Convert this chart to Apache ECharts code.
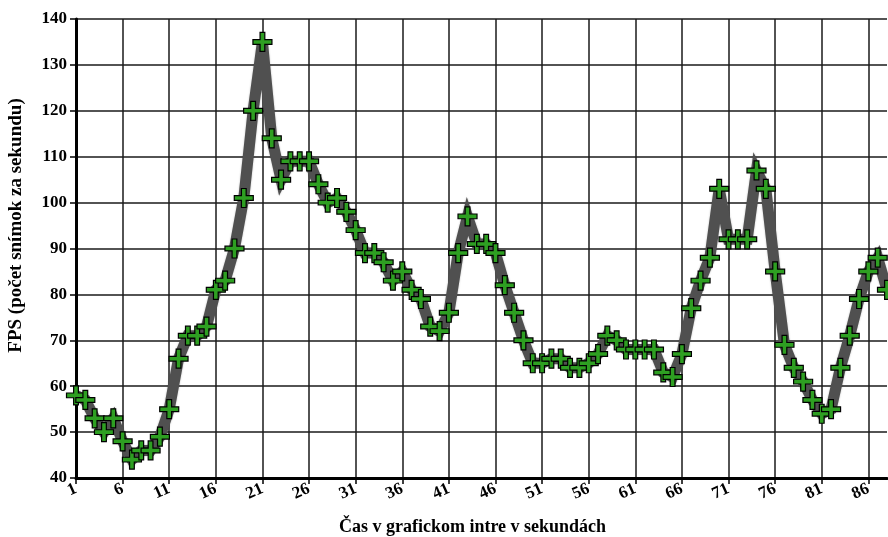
<!DOCTYPE html>
<html>
<head>
<meta charset="utf-8">
<script src="https://cdn.jsdelivr.net/npm/echarts@6/dist/echarts.min.js"></script>
<style>html,body{margin:0;padding:0;background:#fff}#c{width:888px;height:537px}</style>
</head>
<body>
<div id="c"></div>
<script>
const categories = [];
for (let i = 1; i <= 88; i++) categories.push(String(i));
const fpsValues = [58,57,53,50,53,48,44,46,46,49,55,66,71,71,73,81,83,90,101,120,
  135,114,105,109,109,109,104,100,101,98,94,89,89,87,83,85,81,79,73,72,
  76,89,97,91,91,89,82,76,70,65,65,66,66,64,64,65,67,71,70,68,
  68,68,68,63,62,67,77,83,88,103,92,92,92,107,103,85,69,64,61,57,
  54,55,64,71,79,85,88,81];
const yTitle = 'FPS (počet snímok za sekundu)';
const xTitle = 'Čas v grafickom intre v sekundách';

const font = '"Liberation Serif", "Times New Roman", serif';
const chart = echarts.init(document.getElementById('c'), null, {renderer: 'canvas'});
chart.setOption({
  animation: false,
  backgroundColor: '#fff',
  grid: {left: 76, right: 1, top: 19, bottom: 59, containLabel: false, outerBoundsMode: 'none'},
  xAxis: {
    type: 'category',
    data: categories,
    boundaryGap: false,
    name: xTitle,
    nameLocation: 'middle',
    nameGap: 40,
    nameTextStyle: {fontFamily: font, fontWeight: 'bold', fontSize: 18, color: '#000', padding: [0, 18, 0, 0]},
    axisLine: {lineStyle: {color: '#000', width: 3}},
    axisTick: {show: true, interval: 4, length: 6, lineStyle: {color: '#000', width: 1.5}},
    axisLabel: {interval: 4, rotate: 24, fontFamily: font, fontWeight: 'bold', fontSize: 17, color: '#000', margin: 10},
    splitLine: {show: true, interval: 4, lineStyle: {color: '#1a1a1a', width: 1.5}}
  },
  yAxis: {
    type: 'value',
    min: 40, max: 140, interval: 10,
    name: yTitle,
    nameLocation: 'middle',
    nameGap: 50,
    nameTextStyle: {fontFamily: font, fontWeight: 'bold', fontSize: 19, color: '#000', padding: [0, 0, 0, 46]},
    axisLine: {show: true, lineStyle: {color: '#000', width: 3}},
    axisTick: {show: true, length: 6, lineStyle: {color: '#000', width: 1.5}},
    axisLabel: {fontFamily: font, fontWeight: 'bold', fontSize: 17, color: '#000', margin: 9},
    splitLine: {show: true, lineStyle: {color: '#1a1a1a', width: 1.5}}
  },
  series: [{
    type: 'line',
    data: fpsValues,
    clip: false,
    symbol: 'path://M3,0 H5 V3 H8 V5 H5 V8 H3 V5 H0 V3 H3 Z',
    symbolSize: 19,
    showAllSymbol: true,
    itemStyle: {color: '#2e9f22', borderColor: '#000', borderWidth: 1.2},
    lineStyle: {color: '#505050', width: 11, join: 'miter', miterLimit: 4, shadowColor: 'rgba(0,0,0,0.25)', shadowBlur: 2},
    z: 3
  }]
});
</script>
</body>
</html>
